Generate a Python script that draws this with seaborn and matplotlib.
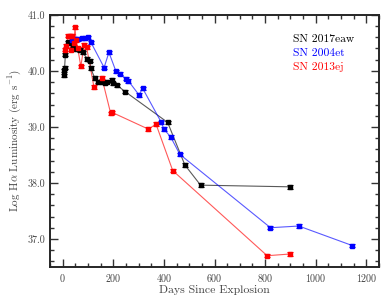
import matplotlib
matplotlib.use("Agg")
import matplotlib.pyplot as plt
import seaborn as sns
import numpy as np
import pandas as pd
from matplotlib.ticker import MultipleLocator, FormatStrFormatter

# --- data -----------------------------------------------------------
days_2017eaw = [5, 7, 8, 11, 23, 34, 43, 53, 69, 80, 98, 108, 111, 127, 141,
                155, 168, 177, 194, 200, 216, 247, 415, 483, 545, 900]
lum_2017eaw = [39.92, 40.01, 40.06, 40.29, 40.51, 40.49, 40.40, 40.39, 40.37,
               40.33, 40.21, 40.18, 40.05, 39.87, 39.81, 39.80, 39.79, 39.81,
               39.84, 39.78, 39.74, 39.63, 39.08, 38.32, 37.96, 37.93]

days_2004et = [38, 50, 62, 75, 88, 100, 112, 164, 183, 211, 227, 250, 260,
               302, 316, 390, 400, 427, 463, 821, 933, 1145]
lum_2004et = [40.55, 40.57, 40.57, 40.58, 40.58, 40.60, 40.51, 40.06, 40.33,
              39.99, 39.95, 39.86, 39.82, 39.57, 39.69, 39.08, 38.96, 38.82,
              38.51, 37.20, 37.23, 36.88]

days_2013ej = [10, 15, 23, 28, 33, 38, 45, 49, 53, 60, 72, 85, 95, 124, 155,
               190, 195, 339, 369, 435, 808, 897]
lum_2013ej = [40.38, 40.45, 40.63, 40.62, 40.38, 40.63, 40.49, 40.78, 40.55,
              40.40, 40.08, 40.46, 40.42, 39.71, 39.88, 39.24, 39.26, 38.96,
              39.05, 38.22, 36.70, 36.73]

err = 0.03
labels = ["SN 2017eaw", "SN 2004et", "SN 2013ej"]
colors = ["#000000", "#0000ff", "#ff0000"]

# --- style ----------------------------------------------------------
sns.set_style("ticks")
plt.rcParams.update({
    "font.family": ["cmr10", "DejaVu Serif"],
    "mathtext.fontset": "cm",
    "axes.formatter.use_mathtext": True,
    "axes.unicode_minus": False,
})

fig = plt.figure(figsize=(3.9, 3.04), dpi=100)
ax = fig.add_axes([0.128, 0.122, 0.844, 0.829])

series = [(days_2017eaw, lum_2017eaw), (days_2004et, lum_2004et),
          (days_2013ej, lum_2013ej)]
for (d, l), lab, c in zip(series, labels, colors):
    df = pd.DataFrame({"day": d, "lum": l})
    sns.lineplot(data=df, x="day", y="lum", ax=ax, sort=False, color=c,
                 lw=0.8, alpha=0.65, label=lab, legend=False)
    ax.errorbar(df["day"], df["lum"], yerr=err, fmt="s", color=c, ms=3.2,
                elinewidth=0.8, capsize=2, capthick=0.8, zorder=3)

ax.set_xlim(-50, 1250)
ax.set_ylim(36.5, 41.0)
ax.xaxis.set_major_locator(MultipleLocator(200))
ax.xaxis.set_minor_locator(MultipleLocator(50))
ax.yaxis.set_major_locator(MultipleLocator(1.0))
ax.yaxis.set_minor_locator(MultipleLocator(0.2))
ax.yaxis.set_major_formatter(FormatStrFormatter("%.1f"))
ax.tick_params(which="both", direction="in", top=True, right=True,
               labelsize=7.2, colors="#333333", labelcolor="#444444", width=1.0)
ax.tick_params(which="major", length=6)
ax.tick_params(which="minor", length=3)
for s in ax.spines.values():
    s.set_linewidth(1.4)

ax.set_xlabel("Days Since Explosion", fontsize=8.5, color="#444444", labelpad=1)
ax.set_ylabel(r"Log H$\alpha$ Luminosity (erg s$^{-1}$)", fontsize=8.0,
              color="#444444", labelpad=3)

leg = ax.legend(handles=[plt.Line2D([], [], alpha=0) for _ in labels],
                labels=labels, loc="upper right", frameon=False,
                handlelength=0, handletextpad=0, fontsize=8.3,
                borderaxespad=0.6, labelspacing=0.35,
                bbox_to_anchor=(0.96, 0.97))
for t, c in zip(leg.get_texts(), colors):
    t.set_color(c)

fig.savefig("out.png", dpi=100)
